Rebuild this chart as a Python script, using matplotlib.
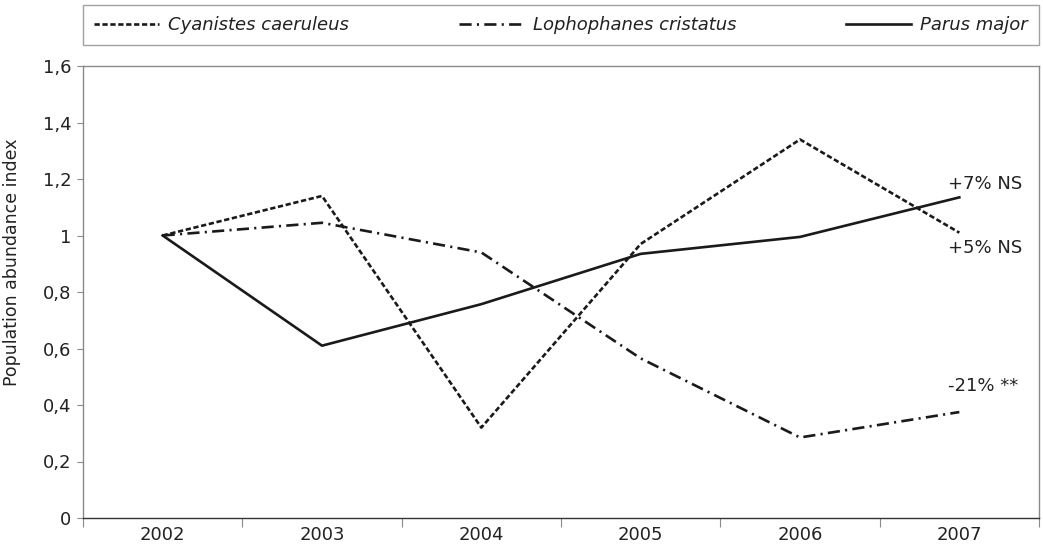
import numpy as np
import matplotlib
matplotlib.use("Agg")
import matplotlib.pyplot as plt
from matplotlib.ticker import FixedLocator, FuncFormatter

# data
years = ["2002", "2003", "2004", "2005", "2006", "2007"]
cyanistes = [1.0, 1.14, 0.32, 0.97, 1.34, 1.01]
lophophanes = [1.0, 1.045, 0.94, 0.565, 0.285, 0.375]
parus = [1.0, 0.61, 0.757, 0.935, 0.995, 1.135]
species = ["Cyanistes caeruleus", "Lophophanes cristatus", "Parus major"]
trend_labels = ["+7% NS", "+5% NS", "-21% **"]
trend_y = [1.182, 0.956, 0.467]
y_ticks = [0, 0.2, 0.4, 0.6, 0.8, 1.0, 1.2, 1.4, 1.6]

plt.rcParams['font.family'] = ['DejaVu Sans']
ink = '#1a1a1a'
txt = '#222222'
frame = '#8a8a8a'
fs = 13

fig = plt.figure(figsize=(10.43, 5.47), dpi=100)
ax = fig.add_axes([83/1043, 1 - 518/547, 956/1043, 452/547])

x = np.arange(len(years))
l1, = ax.plot(x, cyanistes, color=ink, lw=1.9, linestyle=(0, (2.0, 1.0)))
l2, = ax.plot(x, lophophanes, color=ink, lw=1.9, linestyle=(0, (4.6, 2.0, 0.8, 2.0)))
l3, = ax.plot(x, parus, color=ink, lw=1.9, linestyle='-')

for lab, yv in zip(trend_labels, trend_y):
    ax.text(x[-1] - 0.074, yv, lab, fontsize=fs, color=txt, va='center', ha='left')

ax.set_xlim(-0.5, len(years) - 0.5)
ax.set_ylim(0, 1.6)

# category axis: ticks at the borders, labels in the middle
ax.xaxis.set_major_locator(FixedLocator(np.arange(len(years) + 1) - 0.5))
ax.set_xticklabels([], minor=False)
ax.set_xticks(x, minor=True)
ax.set_xticklabels(years, minor=True)
ax.tick_params(axis='x', which='major', length=6.5, color=frame, direction='out')
ax.tick_params(axis='x', which='minor', length=0, labelsize=fs, pad=6, labelcolor=txt)

ax.set_yticks(y_ticks)
ax.yaxis.set_major_formatter(FuncFormatter(lambda v, p: ('%g' % round(v, 1)).replace('.', ',')))
ax.tick_params(axis='y', length=4.5, color=frame, labelsize=fs, labelcolor=txt, pad=4)
ax.set_ylabel("Population abundance index", fontsize=12.5, color=txt)
ax.yaxis.set_label_coords(-0.065, 0.566)

for s in ax.spines.values():
    s.set_color(frame)
    s.set_linewidth(1.0)
ax.spines['bottom'].set_color('#333333')

leg = fig.legend([l1, l2, l3], species, ncol=3, mode='expand',
                 bbox_to_anchor=(83/1043, 1 - 45/547, 956/1043, 40/547),
                 loc='center', frameon=True, fancybox=False, handlelength=3.6,
                 prop={'style': 'italic', 'size': fs}, borderaxespad=0,
                 borderpad=0.62, handletextpad=0.5, columnspacing=2)
leg.get_frame().set_edgecolor(frame)
leg.get_frame().set_linewidth(1.0)
for t in leg.get_texts():
    t.set_color(txt)

fig.savefig("out.png", dpi=100)
